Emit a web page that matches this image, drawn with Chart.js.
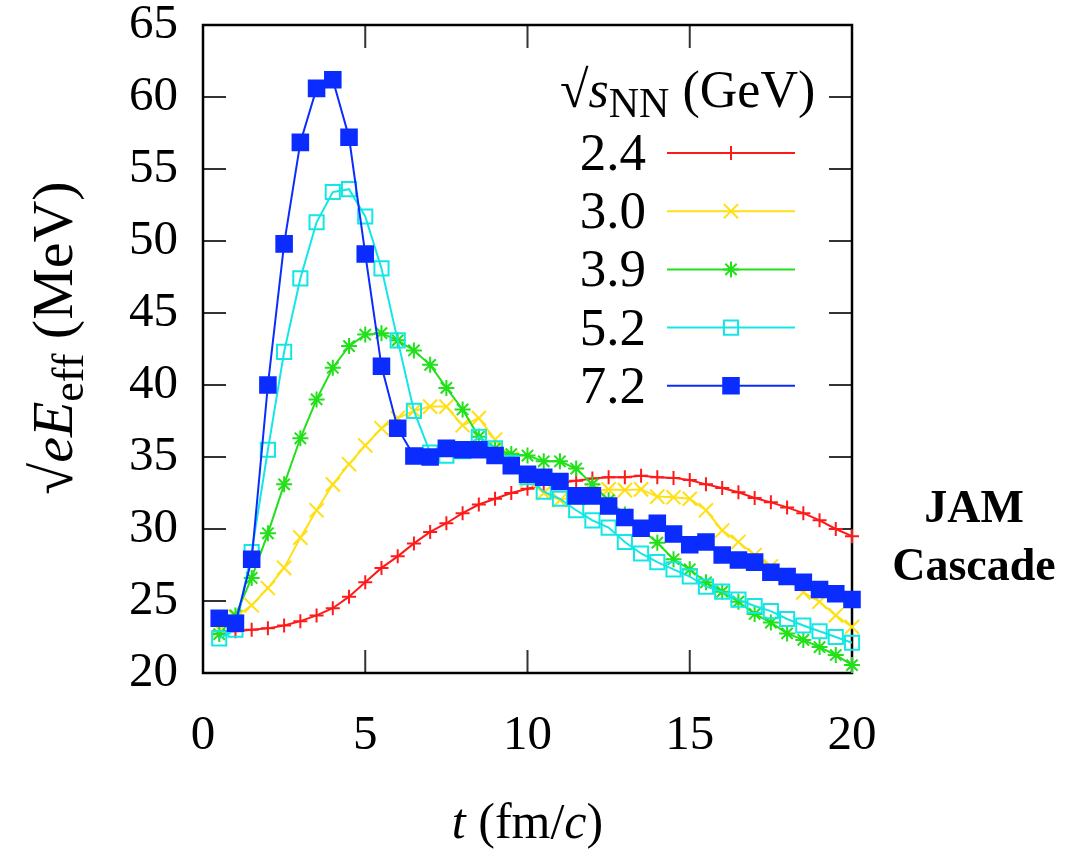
<!DOCTYPE html>
<html>
<head>
<meta charset="utf-8">
<script src="https://cdn.jsdelivr.net/npm/chart.js@4.4.1/dist/chart.umd.min.js"></script>
<style>
  html, body { margin: 0; padding: 0; background: #fff; }
  #wrap { width: 1089px; height: 849px; }
</style>
</head>
<body>
<div id="wrap"><canvas id="efield" width="1089" height="849"></canvas></div>
<script>
// time steps (fm/c)
const times = [0.5, 1, 1.5, 2, 2.5, 3, 3.5, 4, 4.5, 5, 5.5, 6, 6.5, 7, 7.5, 8, 8.5, 9, 9.5, 10,
               10.5, 11, 11.5, 12, 12.5, 13, 13.5, 14, 14.5, 15, 15.5, 16, 16.5, 17, 17.5, 18, 18.5, 19, 19.5, 20];

// sqrt(eE_eff) in MeV
const e24 = [22.9, 22.9, 23.0, 23.1, 23.3, 23.6, 24.0, 24.5, 25.3, 26.3, 27.3, 28.1, 29.0, 29.8, 30.4, 31.1, 31.7, 32.1, 32.5, 32.8,
             33.1, 33.2, 33.35, 33.5, 33.6, 33.6, 33.7, 33.6, 33.55, 33.4, 33.1, 32.85, 32.55, 32.15, 31.85, 31.5, 31.1, 30.6, 30.0, 29.5];
const e30 = [23.0, 23.9, 24.7, 25.9, 27.3, 29.4, 31.3, 33.1, 34.5, 35.8, 37.0, 37.7, 38.2, 38.5, 38.5, 37.2, 37.7, 36.2, 34.9, 33.4,
             32.5, 32.0, 32.3, 32.6, 32.75, 32.7, 32.75, 32.25, 32.2, 32.1, 31.3, 29.9, 29.1, 28.2, 27.4, 26.6, 25.6, 24.95, 24.0, 23.2];
const e39 = [22.7, 24.0, 26.6, 29.7, 33.1, 36.3, 39.0, 41.2, 42.7, 43.5, 43.6, 43.1, 42.4, 41.4, 39.8, 38.3, 36.4, 35.6, 35.2, 35.1,
             34.7, 34.7, 34.2, 33.1, 32.0, 31.0, 30.0, 29.05, 27.9, 27.2, 26.3, 25.65, 24.95, 24.1, 23.5, 22.75, 22.3, 21.8, 21.25, 20.55];
const e52 = [22.4, 23.0, 28.4, 35.5, 42.3, 47.4, 51.3, 53.4, 53.6, 51.7, 48.1, 43.1, 38.2, 35.3, 35.1, 35.4, 36.4, 35.6, 34.6, 33.6,
             32.6, 32.1, 31.3, 30.6, 30.1, 29.1, 28.3, 27.7, 27.2, 26.7, 26.0, 25.65, 25.1, 24.65, 24.3, 23.75, 23.3, 22.9, 22.5, 22.1];
const e72 = [23.8, 23.45, 27.9, 40.0, 49.8, 56.85, 60.6, 61.2, 57.2, 49.1, 41.3, 37.0, 35.07, 35.0, 35.6, 35.5, 35.5, 35.1, 34.4, 33.8,
             33.6, 33.3, 32.3, 32.3, 31.6, 30.8, 30.05, 30.4, 29.65, 28.9, 29.1, 28.2, 27.85, 27.7, 27.0, 26.7, 26.3, 25.8, 25.5, 25.1];

const energies = ["2.4", "3.0", "3.9", "5.2", "7.2"];
const xTicks = [0, 5, 10, 15, 20];
const yTicks = [20, 25, 30, 35, 40, 45, 50, 55, 60, 65];

const serif = "'Liberation Serif', 'Times New Roman', serif";

function pts(vals) {
    return times.map((t, i) => ({ x: t, y: vals[i] }));
}

const styles = [
    { color: "#ff1a1a", style: "cross",    radius: 7,  fill: "#ff1a1a" },
    { color: "#ffe014", style: "crossRot", radius: 10, fill: "#ffe014" },
    { color: "#22e01a", style: "star",     radius: 8,  fill: "#22e01a" },
    { color: "#14e6e6", style: "rect",     radius: 10, fill: "rgba(0,0,0,0)" },
    { color: "#0a2cff", style: "rect",     radius: 11, fill: "#0a2cff" }
];
const series = [e24, e30, e39, e52, e72];

const datasets = series.map((vals, i) => ({
    label: energies[i],
    data: pts(vals),
    borderColor: styles[i].color,
    borderWidth: 2,
    pointStyle: styles[i].style,
    pointRadius: styles[i].radius,
    pointBorderColor: styles[i].color,
    pointBackgroundColor: styles[i].fill,
    pointBorderWidth: 2,
    tension: 0,
    clip: false,
    order: 5 - i
}));

// text made of runs: [text, font, dy]
function drawRuns(ctx, runs, x, y, align) {
    let total = 0;
    runs.forEach(r => { ctx.font = r[1]; total += ctx.measureText(r[0]).width; });
    let cx = align === "center" ? x - total / 2 : (align === "right" ? x - total : x);
    runs.forEach(r => {
        ctx.font = r[1];
        ctx.fillText(r[0], cx, y + (r[2] || 0));
        cx += ctx.measureText(r[0]).width;
    });
}

const tickLen = 23;

const decor = {
    id: "decor",
    beforeDatasetsDraw(chart) {
        const { ctx, chartArea: a, scales: { x, y } } = chart;
        ctx.save();
        ctx.strokeStyle = "#333";
        ctx.lineWidth = 2;
        ctx.beginPath();
        yTicks.forEach(v => {
            const p = y.getPixelForValue(v);
            ctx.moveTo(a.left, p); ctx.lineTo(a.left + tickLen, p);
            ctx.moveTo(a.right, p); ctx.lineTo(a.right - tickLen, p);
        });
        xTicks.forEach(v => {
            const p = x.getPixelForValue(v);
            ctx.moveTo(p, a.bottom); ctx.lineTo(p, a.bottom - tickLen);
            ctx.moveTo(p, a.top); ctx.lineTo(p, a.top + tickLen);
        });
        ctx.stroke();
        ctx.strokeStyle = "#000";
        ctx.lineWidth = 2.5;
        ctx.strokeRect(a.left, a.top, a.right - a.left, a.bottom - a.top);
        ctx.restore();
    },
    afterDatasetsDraw(chart) {
        const { ctx, chartArea: a } = chart;
        ctx.save();
        ctx.fillStyle = "#000";
        ctx.textBaseline = "alphabetic";

        // axis titles
        drawRuns(ctx, [
            ["t", "italic 50px " + serif],
            [" (fm/", "50px " + serif],
            ["c", "italic 50px " + serif],
            [")", "50px " + serif]
        ], (a.left + a.right) / 2, 838, "center");

        ctx.save();
        ctx.translate(72, 338);
        ctx.rotate(-Math.PI / 2);
        drawRuns(ctx, [
            ["\u221A", "58px " + serif],
            ["eE", "italic 58px " + serif],
            ["eff", "44px " + serif, 11],
            [" (MeV)", "58px " + serif]
        ], 0, 0, "center");
        ctx.restore();

        // legend
        drawRuns(ctx, [
            ["\u221A", "52px " + serif],
            ["s", "italic 52px " + serif],
            ["NN", "42px " + serif, 10],
            [" (GeV)", "52px " + serif]
        ], 560, 107, "left");

        ctx.textBaseline = "middle";
        ctx.textAlign = "right";
        ctx.font = "53px " + serif;
        chart.data.datasets.forEach((ds, i) => {
            const ry = 153 + i * 58.2;
            ctx.fillStyle = "#000";
            ctx.fillText(energies[i], 646, ry + 3);
            ctx.strokeStyle = ds.borderColor;
            ctx.lineWidth = 2;
            ctx.beginPath();
            ctx.moveTo(667, ry); ctx.lineTo(795, ry);
            ctx.stroke();
            ctx.fillStyle = ds.pointBackgroundColor;
            Chart.helpers.drawPoint(ctx, {
                pointStyle: ds.pointStyle, radius: ds.pointRadius, rotation: 0, borderWidth: 2
            }, 731, ry);
        });

        // model label
        ctx.fillStyle = "#000";
        ctx.textAlign = "center";
        ctx.font = "bold 46px " + serif;
        ctx.fillText("JAM", 974, 510);
        ctx.fillText("Cascade", 974, 568);
        ctx.restore();
    }
};

new Chart(document.getElementById("efield").getContext("2d"), {
    type: "line",
    data: { datasets: datasets },
    options: {
        responsive: false,
        animation: false,
        devicePixelRatio: 1,
        layout: { padding: { top: 25, right: 237, left: 0, bottom: 0 } },
        plugins: { legend: { display: false }, tooltip: { enabled: false } },
        scales: {
            x: {
                type: "linear",
                min: 0, max: 20,
                afterBuildTicks: s => { s.ticks = xTicks.map(v => ({ value: v })); },
                afterFit: s => { s.height = 176; s.paddingLeft = 0; s.paddingRight = 0; },
                ticks: { color: "#000", padding: 34, font: { family: serif, size: 49 } },
                grid: { display: false, drawTicks: false },
                border: { display: false }
            },
            y: {
                min: 20, max: 65,
                afterBuildTicks: s => { s.ticks = yTicks.map(v => ({ value: v })); },
                afterFit: s => { s.width = 203; s.paddingTop = 0; s.paddingBottom = 0; },
                ticks: { color: "#000", padding: 25, font: { family: serif, size: 49 } },
                grid: { display: false, drawTicks: false },
                border: { display: false }
            }
        }
    },
    plugins: [decor]
});
</script>
</body>
</html>
